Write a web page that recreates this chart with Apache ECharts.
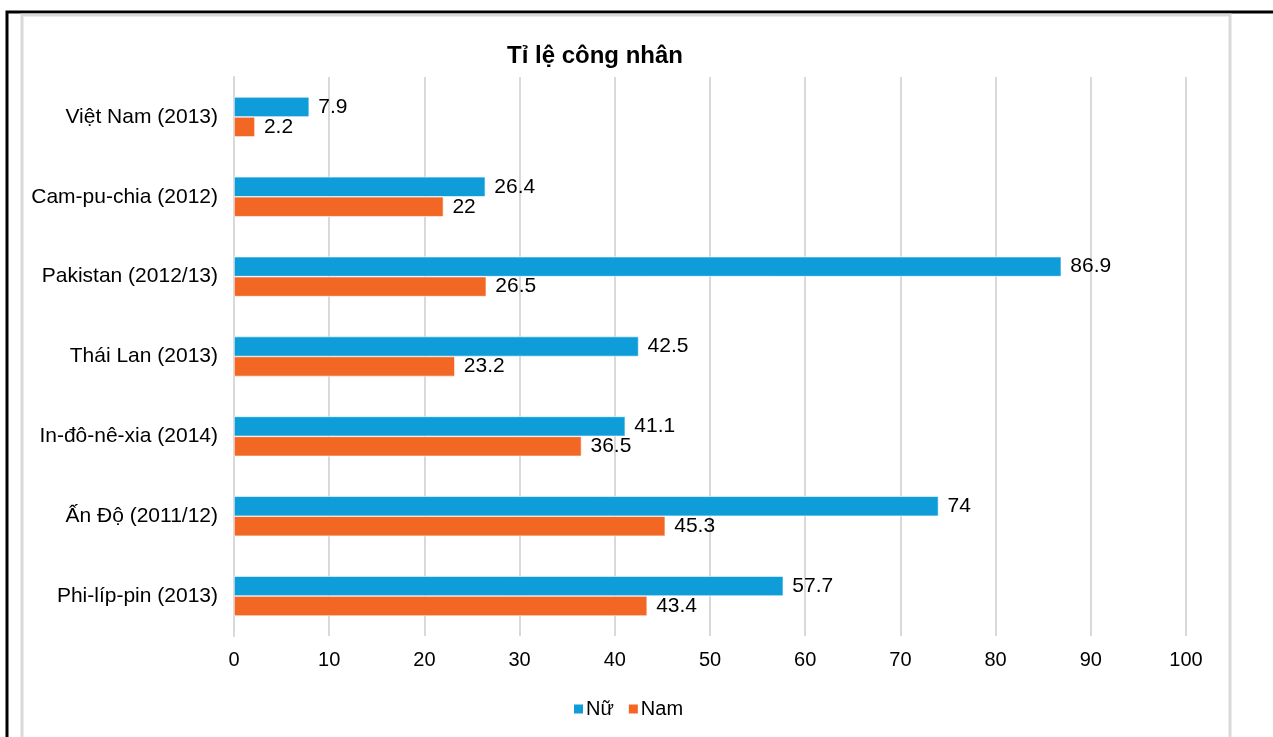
<!DOCTYPE html>
<html>
<head>
<meta charset="utf-8">
<script src="https://cdn.jsdelivr.net/npm/echarts@6/dist/echarts.min.js"></script>
<style>
  html, body { margin: 0; padding: 0; background: #fff; }
  #chart { width: 1273px; height: 737px; }
</style>
</head>
<body>
<div id="chart"></div>
<script>
const categories = [
  'Việt Nam (2013)',
  'Cam-pu-chia (2012)',
  'Pakistan (2012/13)',
  'Thái Lan (2013)',
  'In-đô-nê-xia (2014)',
  'Ấn Độ (2011/12)',
  'Phi-líp-pin (2013)'
];
const femaleValues = [7.9, 26.4, 86.9, 42.5, 41.1, 74, 57.7];
const maleValues = [2.2, 22, 26.5, 23.2, 36.5, 45.3, 43.4];
const seriesNames = ['Nữ', 'Nam'];

const FONT = '"Liberation Sans", Arial, sans-serif';
const chart = echarts.init(document.getElementById('chart'), null, { renderer: 'canvas' });

const labelStyle = {
  show: true,
  position: 'right',
  distance: 9,
  color: '#000',
  fontSize: 21,
  fontFamily: FONT
};

chart.setOption({
  animation: false,
  backgroundColor: '#fff',
  title: {
    text: 'Tỉ lệ công nhân',
    left: 502,
    top: 39,
    textStyle: { fontFamily: FONT, fontSize: 24, fontWeight: 'bold', color: '#000' }
  },
  legend: {
    data: seriesNames,
    left: 567,
    top: 694,
    itemWidth: 11,
    itemHeight: 11,
    itemGap: 13,
    icon: 'rect',
    textStyle: { fontFamily: FONT, fontSize: 20, color: '#000', padding: [0, 0, 0, -3] }
  },
  grid: { left: 234, right: 87, top: 77, bottom: 101, containLabel: false },
  xAxis: {
    type: 'value',
    min: 0,
    max: 100,
    interval: 10,
    axisLine: { show: false },
    axisTick: { show: false },
    axisLabel: { fontFamily: FONT, fontSize: 20, color: '#000', margin: 14 },
    splitLine: { show: true, lineStyle: { color: '#d9d9d9', width: 2 } }
  },
  yAxis: {
    type: 'category',
    data: categories,
    inverse: true,
    axisLine: { show: true, lineStyle: { color: '#d9d9d9', width: 2 } },
    axisTick: { show: false },
    axisLabel: { fontFamily: FONT, fontSize: 21, color: '#000', margin: 16 }
  },
  series: [
    {
      name: seriesNames[0],
      type: 'bar',
      data: femaleValues,
      barGap: '0%',
      barCategoryGap: '50%',
      itemStyle: { color: '#0e9dd9', borderColor: '#fff', borderWidth: 0.6 },
      label: labelStyle
    },
    {
      name: seriesNames[1],
      type: 'bar',
      data: maleValues,
      barGap: '0%',
      barCategoryGap: '50%',
      itemStyle: { color: '#f26724', borderColor: '#fff', borderWidth: 0.6 },
      label: labelStyle
    }
  ],
  graphic: [
    {
      type: 'rect',
      silent: true,
      z: -1,
      shape: { x: 7, y: 12, width: 1300, height: 800 },
      style: { fill: 'none', stroke: '#000', lineWidth: 3 }
    },
    {
      type: 'rect',
      silent: true,
      z: -1,
      shape: { x: 22, y: 15, width: 1208, height: 800 },
      style: { fill: 'none', stroke: '#d9d9d9', lineWidth: 3 }
    }
  ]
});
</script>
</body>
</html>
